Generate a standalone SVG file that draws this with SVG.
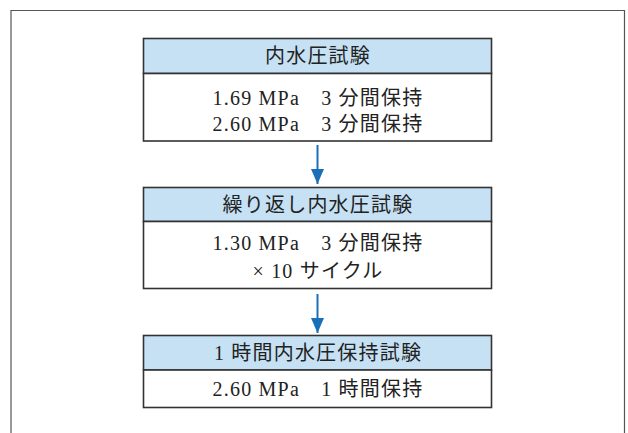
<svg xmlns="http://www.w3.org/2000/svg" width="628" height="433" viewBox="0 0 628 433">
<defs>
<style>
.frame{fill:none;stroke:#555;stroke-width:1.2}
.hdr{fill:#c6e1f4;stroke:#333;stroke-width:1.6}
.bdy{fill:#fff;stroke:#333;stroke-width:1.6}
.t{font-family:"Liberation Serif","Noto Sans CJK JP",serif;font-size:20px;letter-spacing:1.2px;fill:#222;text-anchor:middle}
.conn{stroke:#1a70b8;stroke-width:2;fill:none}
</style>
<marker id="ah" markerUnits="userSpaceOnUse" markerWidth="16" markerHeight="13" refX="15" refY="6.5" orient="auto">
<path d="M0,0 L15,6.5 L0,13 Z" fill="#1a70b8"/>
</marker>
</defs>
<rect width="628" height="433" fill="#fff"/>
<path class="frame" d="M11,440 L11,10.5 L624.5,10.5 L624.5,440"/>
<g id="node1">
<rect class="hdr" x="143.5" y="38.5" width="348" height="35"/>
<rect class="bdy" x="143.5" y="73.5" width="348" height="67.5"/>
<text class="t" x="318" y="63">内水圧試験</text>
<text class="t" x="318" y="104.5">1.69 MPa　3 分間保持</text>
<text class="t" x="318" y="131">2.60 MPa　3 分間保持</text>
</g>
<g id="node2">
<rect class="hdr" x="143.5" y="187.5" width="348" height="34"/>
<rect class="bdy" x="143.5" y="221.5" width="348" height="67"/>
<text class="t" x="318" y="211.5">繰り返し内水圧試験</text>
<text class="t" x="318" y="249.5">1.30 MPa　3 分間保持</text>
<text class="t" x="318" y="277.5">× 10 サイクル</text>
</g>
<g id="node3">
<rect class="hdr" x="143.5" y="335.5" width="348" height="34.5"/>
<rect class="bdy" x="143.5" y="370" width="348" height="37.5"/>
<text class="t" x="318" y="359.5">1 時間内水圧保持試験</text>
<text class="t" x="318" y="396">2.60 MPa　1 時間保持</text>
</g>
<g id="connectors">
<line class="conn" x1="317.5" y1="145" x2="317.5" y2="184" marker-end="url(#ah)"/>
<line class="conn" x1="317.5" y1="294" x2="317.5" y2="333" marker-end="url(#ah)"/>
</g>
</svg>
